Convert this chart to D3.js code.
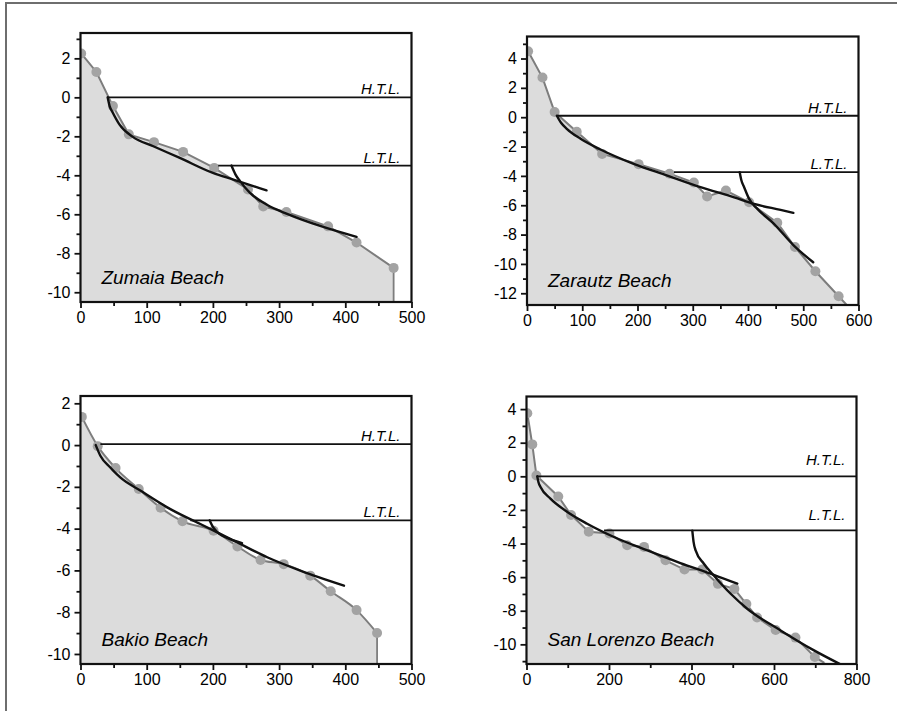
<!DOCTYPE html>
<html>
<head>
<meta charset="utf-8">
<script src="https://cdn.jsdelivr.net/npm/d3@7/dist/d3.min.js"></script>
<style>
  html, body { margin: 0; padding: 0; background: #fff; }
  svg { display: block; }
  text { font-family: "Liberation Sans", Arial, Helvetica, sans-serif; }
</style>
</head>
<body>
<svg id="chart" width="897" height="711"></svg>
<script>
// ---- Beach profiles: distance (m) vs. elevation (m) ----

// Zumaia
const zumaiaProfile = [[1, 2.25], [24, 1.3], [49, -0.45], [73, -1.9], [111, -2.3], [155, -2.8], [202, -3.62], [253, -4.73], [276, -5.6], [311, -5.88], [374, -6.62], [417, -7.45], [473, -8.75]];
const zumaiaFitUpper = [[41, 0], [44, -0.45], [49, -0.8], [59, -1.4], [79, -2.03], [110, -2.51], [150, -3.11], [200, -3.88], [231, -4.22], [281, -4.77]];
const zumaiaFitLower = [[228, -3.5], [234, -3.95], [241, -4.3], [256, -4.9], [281, -5.5], [312, -5.98], [362, -6.6], [417, -7.16]];
const zumaiaTideLevels = [0, -3.5];
const zumaiaTideStarts = [41, 208];

// Zarautz
const zarautzProfile = [[2, 4.5], [28, 2.7], [50, 0.35], [90, -1.0], [136, -2.5], [202, -3.2], [258, -3.85], [302, -4.45], [326, -5.4], [360, -5.0], [402, -5.8], [453, -7.2], [485, -8.85], [522, -10.5], [564, -12.2]];
const zarautzProfileEnd = [580, -12.85];
const zarautzFitUpper = [[54, 0.1], [62, -0.4], [72, -0.79], [97, -1.47], [133, -2.2], [193, -3.18], [254, -3.98], [314, -4.77], [375, -5.46], [411, -5.91], [459, -6.32], [482, -6.52]];
const zarautzFitLower = [[385, -3.75], [388, -4.3], [393, -4.77], [402, -5.57], [417, -6.25], [447, -7.27], [483, -8.75], [518, -9.89]];
const zarautzTideLevels = [0.1, -3.75];
const zarautzTideStarts = [54, 266];

// Bakio
const bakioProfile = [[2, 1.35], [26, -0.05], [53, -1.1], [88, -2.1], [121, -3.0], [154, -3.65], [201, -4.1], [237, -4.85], [272, -5.5], [307, -5.7], [347, -6.25], [378, -7.0], [417, -7.9], [448, -9.0]];
const bakioFitUpper = [[23, 0], [30, -0.51], [45, -1.07], [60, -1.55], [91, -2.19], [131, -2.98], [181, -3.78], [232, -4.58], [282, -5.37], [332, -6.01], [398, -6.73]];
const bakioFitLower = [[195, -3.6], [200, -3.92], [206, -4.15], [226, -4.5], [244, -4.69]];
const bakioTideLevels = [0.05, -3.6];
const bakioTideStarts = [30, 166];

// San Lorenzo
const sanLorenzoProfile = [[2, 3.75], [14, 1.9], [24, 0.05], [77, -1.2], [108, -2.3], [151, -3.3], [201, -3.4], [244, -4.1], [285, -4.2], [337, -5.0], [383, -5.55], [426, -5.55], [464, -6.4], [504, -6.7], [533, -7.6], [559, -8.4], [604, -9.15], [652, -9.6], [699, -10.75]];
const sanLorenzoProfileEnd = [722, -11.1];
const sanLorenzoFitUpper = [[26, 0], [29, -0.35], [34, -0.64], [58, -1.33], [99, -2.12], [147, -2.82], [212, -3.61], [293, -4.41], [373, -5.16], [454, -5.86], [511, -6.39]];
const sanLorenzoFitLower = [[402, -3.24], [405, -3.9], [410, -4.41], [430, -5.2], [454, -5.9], [495, -6.99], [535, -7.88], [616, -9.17], [697, -10.36], [770, -11.3]];
const sanLorenzoTideLevels = [0, -3.22];
const sanLorenzoTideStarts = [25, 188];

// Shared labels
const beachNames = ["Zumaia Beach", "Zarautz Beach", "Bakio Beach", "San Lorenzo Beach"];
const tideLabels = ["H.T.L.", "L.T.L."];

// Axis ticks per panel
const zumaiaXTicks = [0, 100, 200, 300, 400, 500];
const zumaiaYTicks = [2, 0, -2, -4, -6, -8, -10];
const zarautzXTicks = [0, 100, 200, 300, 400, 500, 600];
const zarautzYTicks = [4, 2, 0, -2, -4, -6, -8, -10, -12];
const bakioXTicks = [0, 100, 200, 300, 400, 500];
const bakioYTicks = [2, 0, -2, -4, -6, -8, -10];
const sanLorenzoXTicks = [0, 200, 400, 600, 800];
const sanLorenzoYTicks = [4, 2, 0, -2, -4, -6, -8, -10];

// ---- Panel layout ----
const panels = [
  {
    name: beachNames[0], profile: zumaiaProfile, end: null, smooth: false,
    fits: [zumaiaFitUpper, zumaiaFitLower], levels: zumaiaTideLevels, starts: zumaiaTideStarts,
    xDomain: [0, 500], yDomain: [-10.5, 3.3], xTicks: zumaiaXTicks, yTicks: zumaiaYTicks,
    xMinorStep: 50, box: { left: 80.5, right: 411.5, top: 33, bottom: 302 }, labelGap: [3, 3]
  },
  {
    name: beachNames[1], profile: zarautzProfile, end: zarautzProfileEnd, smooth: false,
    fits: [zarautzFitUpper, zarautzFitLower], levels: zarautzTideLevels, starts: zarautzTideStarts,
    xDomain: [0, 600], yDomain: [-12.8, 5.5], xTicks: zarautzXTicks, yTicks: zarautzYTicks,
    xMinorStep: 50, box: { left: 527, right: 858.5, top: 36.5, bottom: 305 }, labelGap: [3, 3]
  },
  {
    name: beachNames[2], profile: bakioProfile, end: null, smooth: true,
    fits: [bakioFitUpper, bakioFitLower], levels: bakioTideLevels, starts: bakioTideStarts,
    xDomain: [0, 500], yDomain: [-10.48, 2.35], xTicks: bakioXTicks, yTicks: bakioYTicks,
    xMinorStep: 50, box: { left: 80.5, right: 411.5, top: 396, bottom: 664 }, labelGap: [3, 3]
  },
  {
    name: beachNames[3], profile: sanLorenzoProfile, end: sanLorenzoProfileEnd, smooth: false,
    fits: [sanLorenzoFitUpper, sanLorenzoFitLower], levels: sanLorenzoTideLevels, starts: sanLorenzoTideStarts,
    xDomain: [0, 800], yDomain: [-11.17, 4.75], xTicks: sanLorenzoXTicks, yTicks: sanLorenzoYTicks,
    xMinorStep: 100, box: { left: 526.5, right: 856.5, top: 396.5, bottom: 664 }, labelGap: [11, 10]
  }
];

const svg = d3.select("#chart");

// Outer figure border (top and left edges)
svg.append("path")
  .attr("d", "M6,711 L6,3 L897,3")
  .attr("fill", "none")
  .attr("stroke", "#6e6e6e")
  .attr("stroke-width", 2);

const defs = svg.append("defs");

panels.forEach((p, i) => {
  const b = p.box;
  const x = d3.scaleLinear().domain(p.xDomain).range([b.left, b.right]);
  const y = d3.scaleLinear().domain(p.yDomain).range([b.bottom, b.top]);
  const g = svg.append("g");

  const clipId = "clip" + i;
  defs.append("clipPath").attr("id", clipId)
    .append("rect")
    .attr("x", b.left).attr("y", b.top)
    .attr("width", b.right - b.left).attr("height", b.bottom - b.top);

  const plot = g.append("g").attr("clip-path", `url(#${clipId})`);

  // Profile line points (measured points plus optional end of survey line)
  const linePts = p.end ? p.profile.concat([p.end]) : p.profile.slice();
  const last = linePts[linePts.length - 1];
  const curveType = p.smooth ? d3.curveMonotoneX : d3.curveLinear;

  // Shaded beach body below the profile
  const area = d3.area()
    .x(d => x(d[0]))
    .y0(b.bottom + 2)
    .y1(d => y(d[1]))
    .curve(curveType);
  plot.append("path")
    .datum(linePts)
    .attr("d", area)
    .attr("fill", "#dcdcdc");

  // Profile line with drop to the bottom axis
  const line = d3.line().x(d => x(d[0])).y(d => y(d[1])).curve(curveType);
  plot.append("path")
    .datum(linePts)
    .attr("d", line)
    .attr("fill", "none")
    .attr("stroke", "#7d7d7d")
    .attr("stroke-width", 2);
  plot.append("line")
    .attr("x1", x(last[0])).attr("x2", x(last[0]))
    .attr("y1", y(last[1])).attr("y2", b.bottom)
    .attr("stroke", "#7d7d7d")
    .attr("stroke-width", 1.8);

  // Survey points
  plot.selectAll("circle.pt")
    .data(p.profile)
    .join("circle")
    .attr("class", "pt")
    .attr("cx", d => x(d[0]))
    .attr("cy", d => y(d[1]))
    .attr("r", 5)
    .attr("fill", "#a3a3a3");

  // Tide levels (H.T.L. and L.T.L.)
  p.levels.forEach((lv, k) => {
    plot.append("line")
      .attr("x1", x(p.starts[k])).attr("x2", b.right)
      .attr("y1", y(lv)).attr("y2", y(lv))
      .attr("stroke", "#111")
      .attr("stroke-width", 1.8);
    g.append("text")
      .attr("x", b.right - 11)
      .attr("y", y(lv) - p.labelGap[k])
      .attr("text-anchor", "end")
      .attr("font-style", "italic")
      .attr("font-size", 15)
      .attr("fill", "#000")
      .text(tideLabels[k]);
  });

  // Equilibrium profile fits
  const fitLine = d3.line().x(d => x(d[0])).y(d => y(d[1])).curve(d3.curveMonotoneX);
  p.fits.forEach(f => {
    plot.append("path")
      .datum(f)
      .attr("d", fitLine)
      .attr("fill", "none")
      .attr("stroke", "#111")
      .attr("stroke-width", 2.4)
      .attr("stroke-linecap", "round");
  });

  // Beach name
  g.append("text")
    .attr("x", b.left + 21)
    .attr("y", b.bottom - 18)
    .attr("font-style", "italic")
    .attr("font-size", 19)
    .attr("fill", "#000")
    .text(p.name);

  // Axes: major ticks with labels, minor ticks without
  const fmt = d => String(d);
  const xMinor = d3.range(p.xDomain[0], p.xDomain[1] + 1, p.xMinorStep).filter(v => !p.xTicks.includes(v));
  const yMinor = d3.range(Math.ceil(p.yDomain[0]), Math.floor(p.yDomain[1]) + 1, 1).filter(v => !p.yTicks.includes(v));

  const xAxis = g.append("g").attr("transform", `translate(0,${b.bottom})`)
    .call(d3.axisBottom(x).tickValues(p.xTicks).tickFormat(fmt).tickSize(6).tickPadding(4));
  const xAxisMinor = g.append("g").attr("transform", `translate(0,${b.bottom})`)
    .call(d3.axisBottom(x).tickValues(xMinor).tickFormat("").tickSize(4));
  const yAxis = g.append("g").attr("transform", `translate(${b.left},0)`)
    .call(d3.axisLeft(y).tickValues(p.yTicks).tickFormat(fmt).tickSize(6).tickPadding(4));
  const yAxisMinor = g.append("g").attr("transform", `translate(${b.left},0)`)
    .call(d3.axisLeft(y).tickValues(yMinor).tickFormat("").tickSize(4));

  [xAxis, xAxisMinor, yAxis, yAxisMinor].forEach(a => {
    a.select(".domain").remove();
    a.selectAll(".tick line").attr("stroke", "#111").attr("stroke-width", 1.8);
    a.selectAll(".tick text")
      .attr("font-size", 16)
      .attr("fill", "#000")
      .attr("font-family", "'Liberation Sans', Arial, sans-serif");
  });

  // Plot frame
  g.append("rect")
    .attr("x", b.left).attr("y", b.top)
    .attr("width", b.right - b.left).attr("height", b.bottom - b.top)
    .attr("fill", "none")
    .attr("stroke", "#111")
    .attr("stroke-width", 2.2);
});
</script>
</body>
</html>
